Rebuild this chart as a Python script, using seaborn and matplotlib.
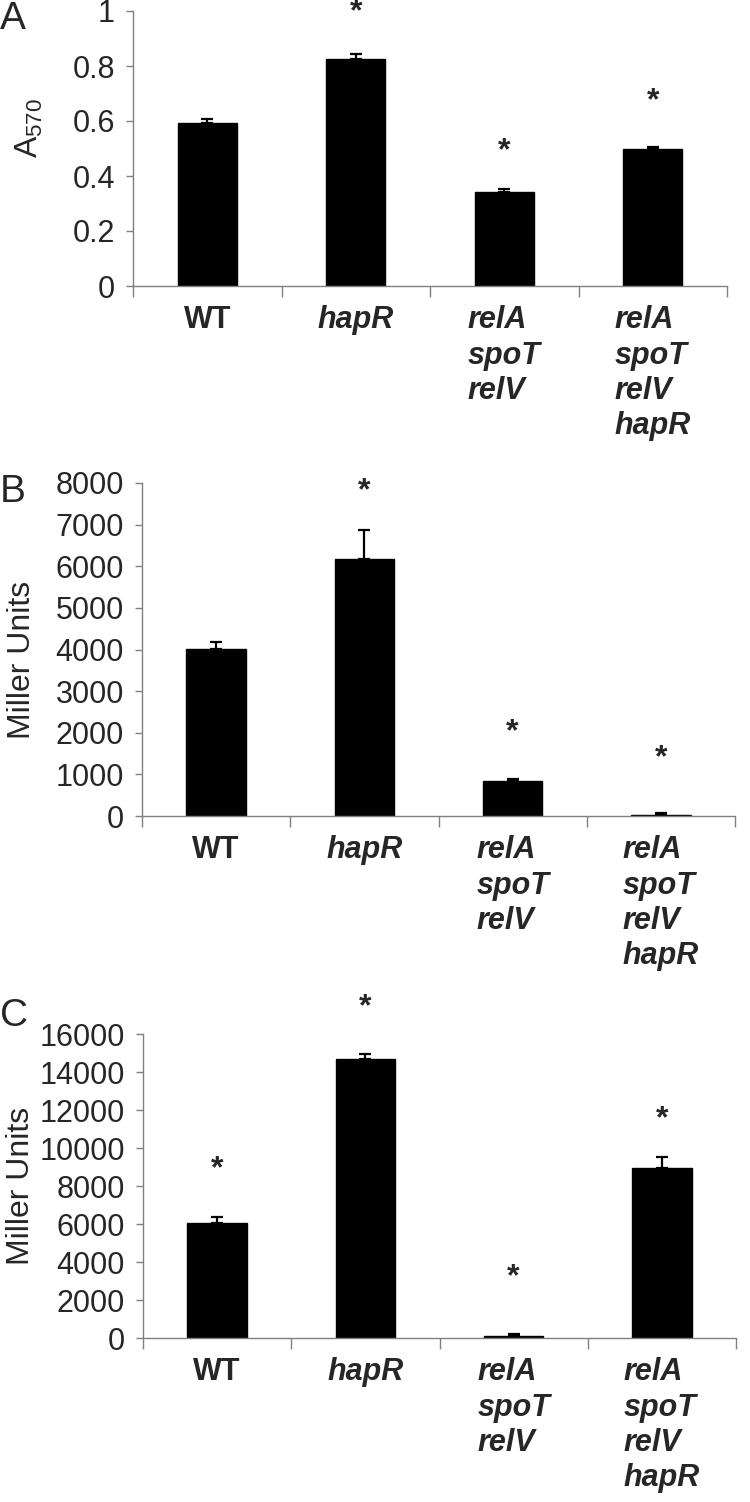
"""
Three stacked bar panels (A, B, C) with upper error bars and significance stars
"""
import numpy as np
import seaborn as sns
from matplotlib import pyplot as plt

categories = ['WT', 'hapR', 'relA\nspoT\nrelV', 'relA\nspoT\nrelV\nhapR']

# Panel A - biofilm (A570)
a_mean = [0.591, 0.827, 0.343, 0.498]
a_err = [0.018, 0.016, 0.009, 0.009]
a_star = [None, 0.996, 0.491, 0.673]

# Panel B - Miller units
b_mean = [4020, 6170, 835, 20]
b_err = [150, 710, 64, 50]
b_star = [None, 7810, 2000, 1390]

# Panel C - Miller units
c_mean = [6050, 14700, 100, 8950]
c_err = [300, 250, 90, 560]
c_star = [8900, 17400, 3200, 11500]

W, H = 750, 1502
sns.set_style('ticks')
plt.rcParams['font.family'] = ['Liberation Sans', 'DejaVu Sans']
plt.rcParams['mathtext.fontset'] = 'custom'
plt.rcParams['mathtext.rm'] = 'Liberation Sans'

fig = plt.figure(figsize=(W / 100, H / 100), dpi=100)


def add_axes(left, right, top, bottom):
    return fig.add_axes([left / W, 1 - bottom / H, (right - left) / W, (bottom - top) / H])


def bar_panel(ax, means, errs, stars, ymax, step, ylabel, fmt, label_xy):
    sns.barplot(x=categories, y=means, color='black', width=0.4, errorbar=None,
                saturation=1, ax=ax, edgecolor='black')
    x = np.arange(len(categories))
    ax.errorbar(x, means, yerr=[np.zeros(len(errs)), errs], fmt='none', ecolor='black',
                elinewidth=1.6, capsize=4.5, capthick=1.6)
    for i, s in enumerate(stars):
        if s is not None:
            ax.text(i, s, '*', ha='center', va='center', fontsize=23, fontweight='bold',
                    clip_on=False)
    ax.set_xlim(-0.5, 3.5)
    ax.set_ylim(0, ymax)
    ticks = np.arange(0, ymax + step / 2, step)
    ax.set_yticks(ticks, [fmt(t) for t in ticks])
    ax.set_xticks(x, categories)
    ax.set_xticks(np.arange(-0.5, 4, 1), minor=True)
    ax.tick_params(axis='x', which='major', length=0, pad=14)
    ax.tick_params(axis='x', which='minor', length=8, width=1, color='#808080', direction='out')
    ax.tick_params(axis='y', length=5, width=1, color='#808080', labelsize=22, pad=8)
    for i, lab in enumerate(ax.get_xticklabels()):
        lab.set_fontsize(22)
        lab.set_fontweight('bold')
        lab.set_multialignment('left')
        lab.set_linespacing(1.22)
        lab.set_verticalalignment('top')
        if i > 0:
            lab.set_style('italic')
    for side in ['top', 'right']:
        ax.spines[side].set_visible(False)
    for side in ['left', 'bottom']:
        ax.spines[side].set_color('#808080')
        ax.spines[side].set_linewidth(1)
    ax.set_ylabel(ylabel, fontsize=23)
    ax.yaxis.set_label_coords(*label_xy)
    ax.set_xlabel('')


ax_a = add_axes(133, 727, 11, 286)
bar_panel(ax_a, a_mean, a_err, a_star, 1.0, 0.2, r'$\mathregular{A_{570}}$',
          lambda t: f'{t:g}', (-0.148, 0.575))

ax_b = add_axes(142, 735, 483, 816)
bar_panel(ax_b, b_mean, b_err, b_star, 8000, 1000, 'Miller Units',
          lambda t: f'{int(t)}', (-0.177, 0.468))

ax_c = add_axes(143, 736, 1034, 1338)
bar_panel(ax_c, c_mean, c_err, c_star, 16000, 2000, 'Miller Units',
          lambda t: f'{int(t)}', (-0.18, 0.5))

fig.text(0, 1 - 29 / H, 'A', fontsize=28)
fig.text(0, 1 - 502 / H, 'B', fontsize=28)
fig.text(0, 1 - 1026 / H, 'C', fontsize=28)

fig.savefig('out.png', dpi=100)
